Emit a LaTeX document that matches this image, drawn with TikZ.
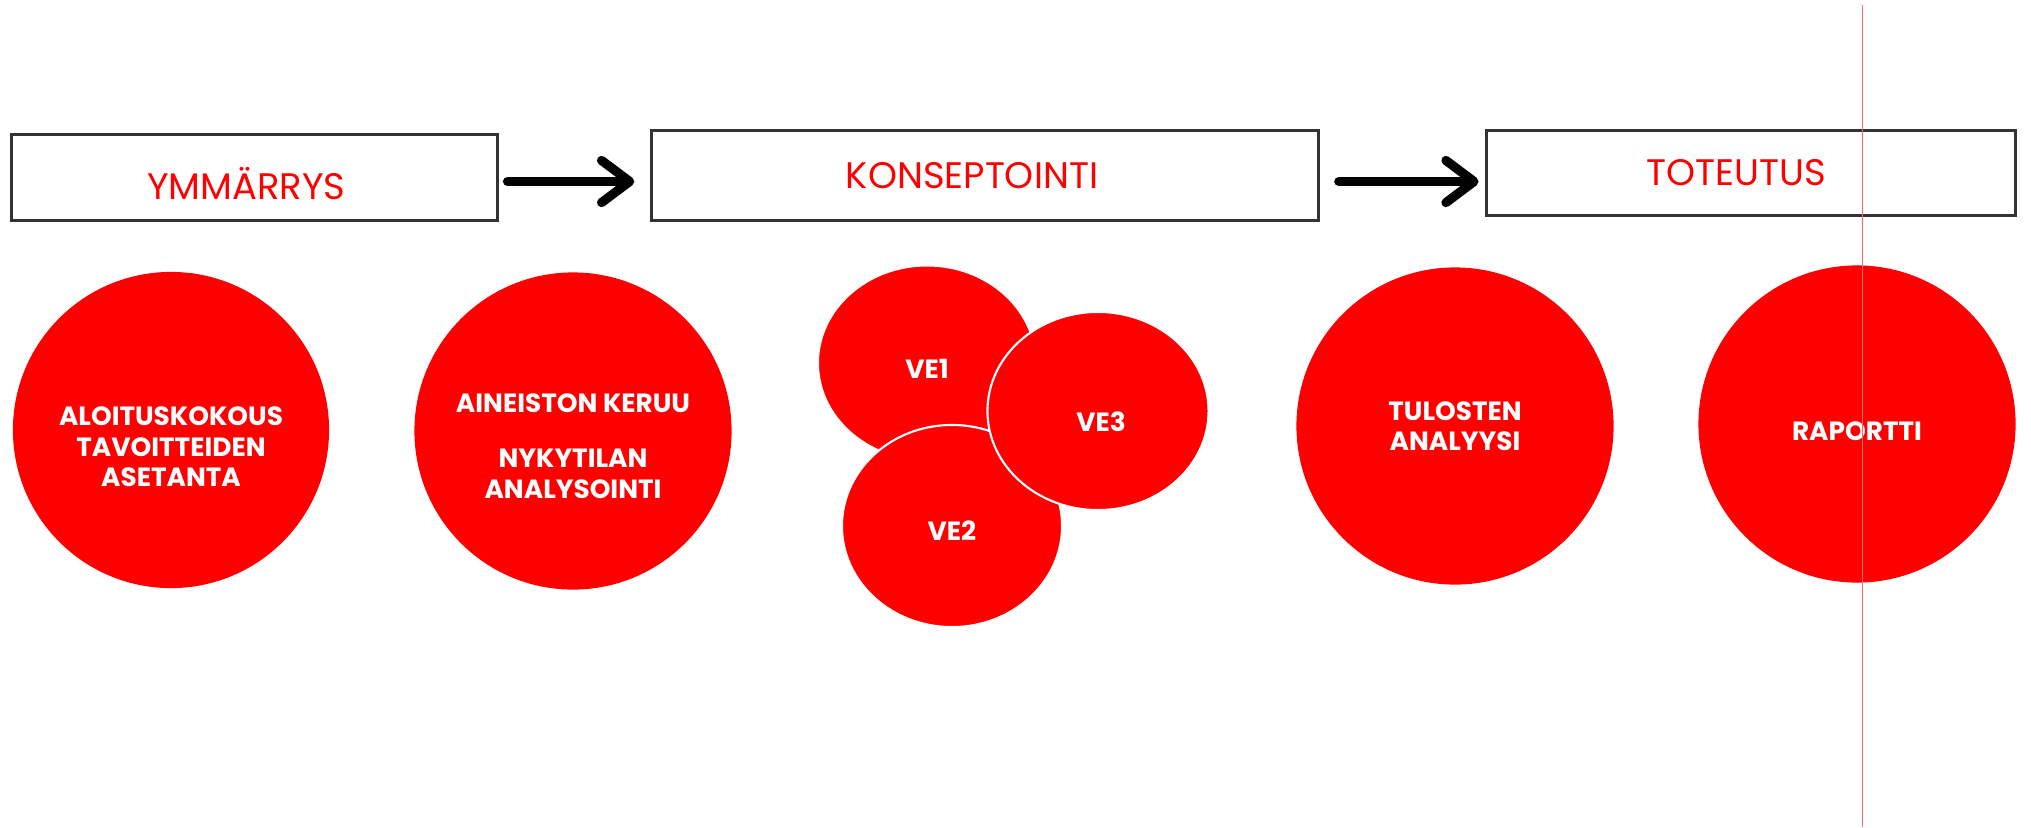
\documentclass[tikz,border=0pt]{standalone}
\usepackage{fontspec}
\setmainfont{Poppins}
\usetikzlibrary{arrows.meta,shapes.geometric,calc}
\definecolor{rd}{RGB}{255,0,0}
\definecolor{guide}{RGB}{240,110,110}
\begin{document}
\begin{tikzpicture}[x=0.01cm,y=-0.01cm,
  phase/.style={draw=black!80,line width=0.9pt,fill=white,inner sep=0pt,outer sep=0pt,text=rd,font=\fontsize{10.5}{12}\selectfont},
  blob/.style={circle,fill=rd,inner sep=0pt,minimum size=3.17cm},
  veblob/.style={ellipse,fill=rd,draw=white,line width=0.6pt,inner sep=0pt},
  lbl/.style={text=white,align=center,font=\fontsize{7.5}{8.7}\selectfont\bfseries,inner sep=0pt},
  flow/.style={line width=2.6pt,line cap=round,-{Straight Barb[length=8pt,width=12pt,round]}},
  guideline/.style={draw=guide,line width=0.45pt}]
\useasboundingbox (0,0) rectangle (2031,827);
\fill[white] (0,0) rectangle (2031,827);

% phase boxes
\node[phase,minimum width=4.857cm,minimum height=0.855cm] (b1) at (254.5,177.5) {};
\node[phase,minimum width=6.671cm,minimum height=0.894cm] (b2) at (985,175.5) {};
\node[phase,minimum width=5.285cm,minimum height=0.842cm] (b3) at (1751,173) {};
\node[text=rd,font=\fontsize{10.5}{12}\selectfont,inner sep=0pt] (tb1) at ([xshift=-0.08cm,yshift=-0.06cm]b1.center) {YMMÄRRYS};
\node[text=rd,font=\fontsize{10.5}{12}\selectfont,inner sep=0pt] (tb2) at ([xshift=-0.13cm]b2.center) {KONSEPTOINTI};
\node[text=rd,font=\fontsize{10.5}{12}\selectfont,inner sep=0pt] (tb3) at ([xshift=-0.15cm]b3.center) {TOTEUTUS};

% arrows
\draw[flow,shorten <=0.1cm,shorten >=0.17cm] ([yshift=-0.04cm]b1.east) -- ([yshift=-0.04cm]b1.east -| b2.west);
\draw[flow,shorten <=0.2cm,shorten >=0.08cm] ([yshift=-0.06cm]b2.east) -- ([yshift=-0.06cm]b2.east -| b3.west);

% circles
\node[blob,minimum size=3.16cm] (c1) at (171,430) {};
\node[lbl] (t1) at ([yshift=-0.17cm]c1.center) {ALOITUSKOKOUS\\TAVOITTEIDEN\\ASETANTA};

\node[blob] (c2) at (573,431) {};
\node[lbl] (t2) at ([yshift=-0.15cm]c2.center) {AINEISTON KERUU\\[7pt]NYKYTILAN\\ANALYSOINTI};

\node[veblob,minimum width=2.18cm,minimum height=1.95cm] (v1) at (927,363) {};
\node[veblob,minimum width=2.2cm,minimum height=2.02cm] (v2) at (952,526) {};
\node[veblob,minimum width=2.21cm,minimum height=1.98cm] (v3) at (1098,411) {};
\node[lbl] (tv1) at ([yshift=-0.06cm]v1.center) {VE1};
\node[lbl] (tv2) at ([yshift=-0.05cm]v2.center) {VE2};
\node[lbl] (tv3) at ([xshift=0.03cm,yshift=-0.11cm]v3.center) {VE3};

\node[blob] (c4) at (1455,426) {};
\node[lbl] (t4) at (c4.center) {TULOSTEN\\ANALYYSI};

\node[blob] (c5) at (1857,424) {};
\node[lbl] (t5) at ([yshift=-0.07cm]c5.center) {RAPORTTI};

% vertical guide line
\coordinate (gtop) at (1862.6,5);
\coordinate (gbot) at (1862.6,827);
\draw[guideline] (gtop) -- (gbot);
\end{tikzpicture}
\end{document}
